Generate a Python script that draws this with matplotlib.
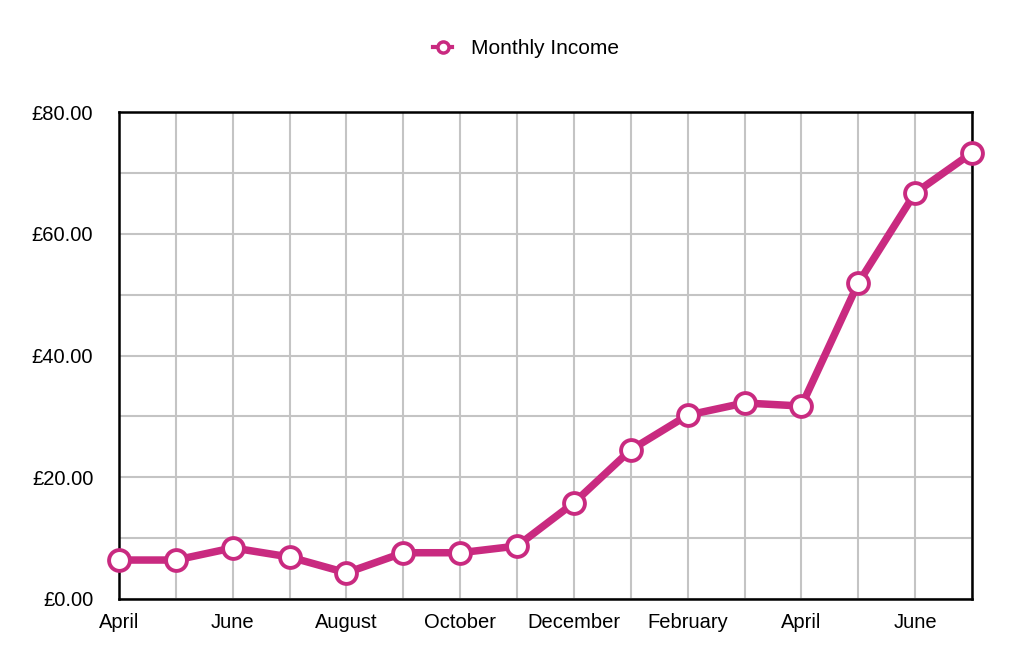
import numpy as np
import matplotlib
matplotlib.use("Agg")
import matplotlib.pyplot as plt
from matplotlib.ticker import FuncFormatter, MultipleLocator

plt.rcParams["font.family"] = ["Liberation Sans", "DejaVu Sans"]

# Data ---------------------------------------------------------------
months = ["April", "May", "June", "July", "August", "September", "October",
          "November", "December", "January", "February", "March", "April",
          "May", "June", "July"]
income = [6.4, 6.4, 8.4, 6.9, 4.3, 7.6, 7.6, 8.7, 15.8, 24.5, 30.2, 32.2,
          31.7, 51.9, 66.7, 73.3]

LINE_COLOR = "#c92a80"
GRID_COLOR = "#c4c4c4"
FS = 14.5

x = np.arange(len(months))

fig = plt.figure(figsize=(10.24, 6.70), dpi=100)
ax = fig.add_axes([119 / 1024, 71 / 670, 853 / 1024, 487 / 670])

ax.plot(x, income, color=LINE_COLOR, lw=5.4, marker="o", ms=15,
        mfc="white", mec=LINE_COLOR, mew=2.8, clip_on=False, zorder=5,
        label="Monthly Income")

ax.set_xlim(0, len(months) - 1)
ax.set_ylim(0, 80)

# every month gets a gridline, every other one a label
ax.set_xticks(x)
ax.set_xticklabels([m if i % 2 == 0 else "" for i, m in enumerate(months)])
ax.yaxis.set_major_locator(MultipleLocator(20))
ax.yaxis.set_minor_locator(MultipleLocator(10))
ax.yaxis.set_major_formatter(FuncFormatter(lambda v, p: f"£{v:.2f}"))

ax.grid(True, which="both", axis="y", color=GRID_COLOR, lw=1.5)
ax.grid(True, which="major", axis="x", color=GRID_COLOR, lw=1.5)
ax.set_axisbelow(True)

ax.tick_params(which="both", length=0, labelsize=FS, colors="black")
ax.tick_params(axis="y", pad=18.5)
ax.tick_params(axis="x", pad=10)

for s in ax.spines.values():
    s.set_linewidth(1.8)
    s.set_color("black")

leg = fig.legend(loc="center", bbox_to_anchor=(526 / 1024, 1 - 49 / 670),
                 frameon=False, fontsize=15, handlelength=0.9,
                 handletextpad=0.9)
for h in leg.legend_handles:
    h.set_linewidth(3)
    h.set_markersize(8)
    h.set_markeredgewidth(2.5)

fig.savefig("out.png", dpi=100, facecolor="white")
